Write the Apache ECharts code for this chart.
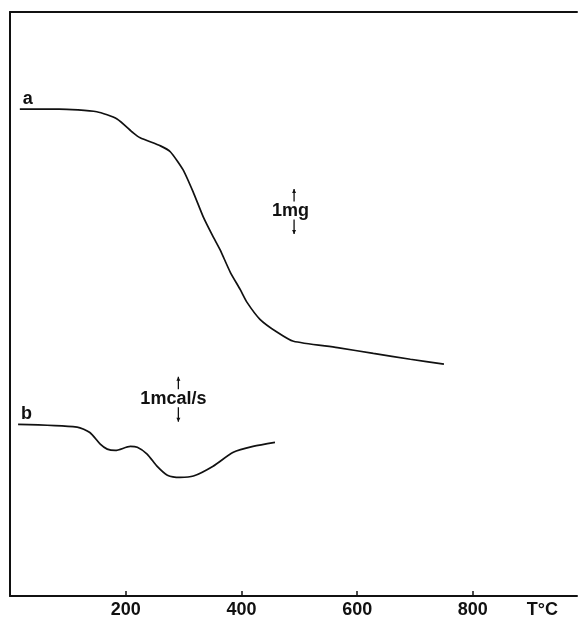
<!DOCTYPE html>
<html><head><meta charset="utf-8">
<script src="https://cdn.jsdelivr.net/npm/echarts@6/dist/echarts.min.js"></script>
<style>html,body{margin:0;padding:0;background:#fff}#c{width:579px;height:619px}</style>
</head><body><div id="c"></div>
<script>
// Temperature (°C) and signal values (curve a: mass in mg offset; curve b: heat flow in mcal/s offset)
const tempA = [17, 85, 150, 185, 213, 225, 260, 277, 299, 317, 334, 351, 363, 381, 398, 410, 432, 462, 490, 566, 628, 692, 750];
const massA = [10.84, 10.84, 10.78, 10.62, 10.31, 10.2, 10.02, 9.89, 9.49, 8.98, 8.44, 8.0, 7.71, 7.2, 6.82, 6.53, 6.16, 5.87, 5.67, 5.53, 5.4, 5.27, 5.16];
const tempB = [14, 116, 138, 156, 168, 182, 208, 220, 237, 254, 272, 294, 317, 351, 386, 420, 458];
const heatB = [3.82, 3.76, 3.64, 3.38, 3.27, 3.24, 3.33, 3.31, 3.16, 2.89, 2.69, 2.64, 2.67, 2.89, 3.2, 3.33, 3.42];
const xTicks = [200, 400, 600, 800];
const axisUnit = 'T°C';
const curveNames = ['a', 'b'];
const scaleBars = [
  {text: '1mg', x: 491, center: 8.56, half: 0.5},
  {text: '1mcal/s', x: 291, center: 4.38, half: 0.5}
];

const ink = '#111';
const font = '"Liberation Sans", Arial, sans-serif';
const chart = echarts.init(document.getElementById('c'), null, {renderer: 'canvas'});
const grid = {left: 10, right: 2, top: 12, bottom: 22};
chart.setOption({
  animation: false,
  backgroundColor: '#fff',
  grid: grid,
  xAxis: [{
    type: 'value', min: 0, max: 980, interval: 200, position: 'bottom',
    axisLine: {show: true, lineStyle: {color: ink, width: 2}},
    axisTick: {show: true, inside: true, length: 5, customValues: xTicks, lineStyle: {color: ink, width: 1.5}},
    splitLine: {show: false},
    axisLabel: {color: ink, fontFamily: font, fontWeight: 'bold', fontSize: 18, margin: 5, customValues: xTicks}
  }, {
    type: 'value', min: 0, max: 980, position: 'top',
    axisLine: {show: true, onZero: false, lineStyle: {color: ink, width: 2}},
    axisTick: {show: false}, axisLabel: {show: false}, splitLine: {show: false}
  }],
  yAxis: {
    type: 'value', min: 0, max: 13,
    axisLine: {show: true, lineStyle: {color: ink, width: 2}},
    axisTick: {show: false}, axisLabel: {show: false}, splitLine: {show: false}
  },
  series: [
    {type: 'line', name: curveNames[0], data: tempA.map((t, i) => [t, massA[i]]), smooth: 0.2,
     symbol: 'none', lineStyle: {color: ink, width: 1.7}},
    {type: 'line', name: curveNames[1], data: tempB.map((t, i) => [t, heatB[i]]), smooth: 0.25,
     symbol: 'none', lineStyle: {color: ink, width: 1.7}}
  ]
});

// annotations positioned from data coordinates
const g = [];
const txt = (x, y, s, align) => ({type: 'text', x: x, y: y,
  style: {text: s, fill: ink, font: 'bold 18px ' + font, textAlign: align || 'center', textVerticalAlign: 'middle'}});
[[tempA[0], massA[0]], [tempB[0], heatB[0]]].forEach((p, i) => {
  const q = chart.convertToPixel({gridIndex: 0}, p);
  g.push(txt(q[0] + 3, q[1] - 10, curveNames[i], 'left'));
});
scaleBars.forEach(b => {
  const c = chart.convertToPixel({gridIndex: 0}, [b.x, b.center]);
  const top = chart.convertToPixel({gridIndex: 0}, [b.x, b.center + b.half])[1];
  const bot = chart.convertToPixel({gridIndex: 0}, [b.x, b.center - b.half])[1];
  const xOff = b.text === '1mg' ? -22 : -38;
  g.push(txt(c[0] + xOff, c[1], b.text, 'left'));
  g.push({type: 'line', shape: {x1: c[0], y1: top, x2: c[0], y2: c[1] - 10}, style: {stroke: ink, lineWidth: 1.3}});
  g.push({type: 'line', shape: {x1: c[0], y1: c[1] + 8, x2: c[0], y2: bot}, style: {stroke: ink, lineWidth: 1.3}});
  g.push({type: 'polygon', shape: {points: [[c[0] - 2, top + 4], [c[0] + 2, top + 4], [c[0], top]]}, style: {fill: ink}});
  g.push({type: 'polygon', shape: {points: [[c[0] - 2, bot - 4], [c[0] + 2, bot - 4], [c[0], bot]]}, style: {fill: ink}});
});
const u = chart.convertToPixel({gridIndex: 0}, [920, 0]);
g.push({type: 'text', x: u[0], y: u[1] + 5, style: {text: axisUnit, fill: ink, font: 'bold 18px ' + font, textAlign: 'center', textVerticalAlign: 'top'}});
chart.setOption({graphic: g});
</script></body></html>
